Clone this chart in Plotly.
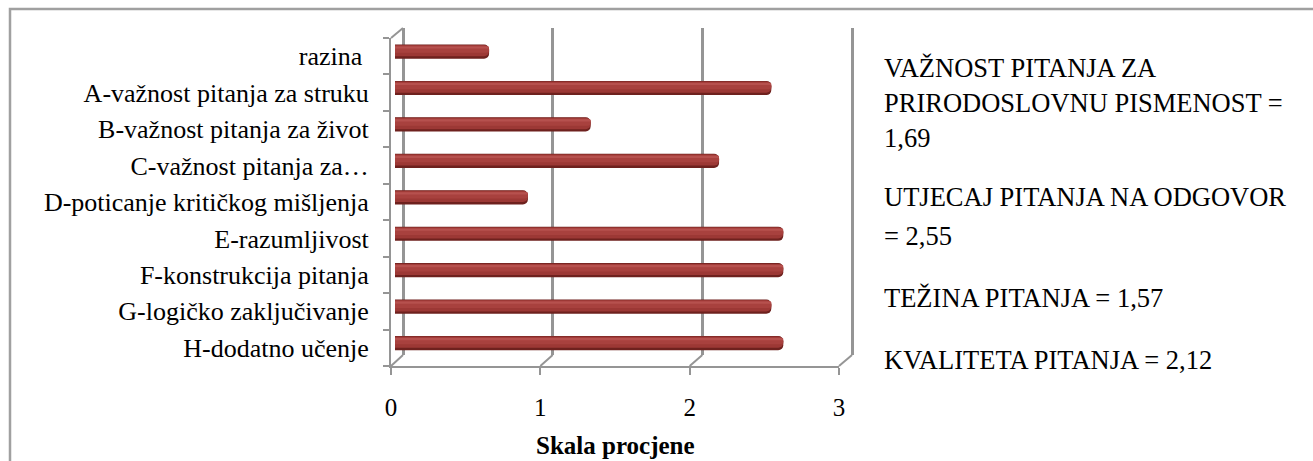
import plotly.graph_objects as go

W, H = 1313, 461

categories = [
    "razina",
    "A-važnost pitanja za struku",
    "B-važnost pitanja za život",
    "C-važnost pitanja za…",
    "D-poticanje kritičkog mišljenja",
    "E-razumljivost",
    "F-konstrukcija pitanja",
    "G-logičko zaključivanje",
    "H-dodatno učenje",
]
tick_labels = [
    "razina\u00a0",
    "A-važnost pitanja za struku",
    "B-važnost pitanja za život",
    "C-važnost pitanja za…",
    "D-poticanje kritičkog mišljenja",
    "E-razumljivost",
    "F-konstrukcija pitanja",
    "G-logičko zaključivanje",
    "H-dodatno učenje",
]
values = [0.63, 2.52, 1.31, 2.17, 0.89, 2.60, 2.60, 2.52, 2.60]
x_ticks = [0, 1, 2, 3]
x_title = "Skala procjene"
summary_lines = [
    "VAŽNOST PITANJA ZA",
    "PRIRODOSLOVNU PISMENOST =",
    "1,69",
    "UTJECAJ PITANJA NA ODGOVOR",
    "= 2,55",
    "TEŽINA PITANJA = 1,57",
    "KVALITETA PITANJA = 2,12",
]
summary_y_px = [68, 103, 138, 197, 236, 298, 360]

FONT = "Liberation Serif"
GRAY = "#959595"


def fx(px):
    return px / W


def fy(py):
    return 1 - py / H


# pixel geometry of the pseudo-3D frame
FRONT_X0, FRONT_X3 = 391, 839
BACK_X0, BACK_X3 = 403, 852
BAR_X0 = 395
UNIT = (FRONT_X3 - FRONT_X0) / 3
BACK_UNIT = (BACK_X3 - BACK_X0) / 3
FRONT_TOP, FRONT_BOT = 38, 366
BACK_TOP, BACK_BOT = 28, 355
BAR_TOP, BAR_BOT = 33.5, 361.5
PAD = 0.03  # keep the edge gridlines of the back wall inside the range


def xdomain(px0, unit, lo, hi):
    return [fx(px0 + lo * unit), fx(px0 + hi * unit)]


fig = go.Figure()

# back wall (subplot x/y): only gridlines
fig.add_trace(go.Scatter(x=[None], y=[None], xaxis="x", yaxis="y",
                         showlegend=False, hoverinfo="skip"))

# bars (subplot x2/y2): layered to suggest a cylinder
bar_layers = [
    ("#6e211e", -0.20, 0.39),
    ("#9c3835", -0.185, 0.31),
    ("#a8413e", -0.16, 0.19),
    ("#b6514e", -0.145, 0.06),
]
for color, off, wid in bar_layers:
    fig.add_trace(go.Bar(
        x=values, y=categories, orientation="h",
        xaxis="x2", yaxis="y2",
        marker=dict(color=color, line=dict(width=0), cornerradius=5),
        offset=off, width=wid, showlegend=False, hoverinfo="skip",
    ))

# front axes (subplot x3/y3)
fig.add_trace(go.Bar(
    x=values, y=categories, orientation="h", xaxis="x3", yaxis="y3",
    marker=dict(color="rgba(0,0,0,0)", line=dict(width=0)),
    showlegend=False, hoverinfo="skip",
))

layout_axes = dict(
    xaxis=dict(
        domain=xdomain(BACK_X0, BACK_UNIT, -PAD, 3 + PAD), range=[-PAD, 3 + PAD],
        anchor="y", tickvals=x_ticks, showticklabels=False, ticks="",
        showgrid=True, gridcolor=GRAY, gridwidth=2.5,
        zeroline=False, showline=False,
    ),
    yaxis=dict(
        domain=[fy(BACK_BOT), fy(BACK_TOP)], range=[0, 1], anchor="x",
        visible=False, showgrid=False, zeroline=False,
    ),
    xaxis2=dict(
        domain=xdomain(BAR_X0, UNIT, 0, 3), range=[0, 3], anchor="y2",
        visible=False, showgrid=False, zeroline=False,
    ),
    yaxis2=dict(
        domain=[fy(BAR_BOT), fy(BAR_TOP)], anchor="x2", type="category",
        categoryorder="array", categoryarray=categories,
        range=[len(categories) - 0.5, -0.5],
        visible=False, showgrid=False,
    ),
    xaxis3=dict(
        domain=xdomain(FRONT_X0, UNIT, 0, 3), range=[0, 3], anchor="y3",
        tickvals=x_ticks, ticktext=[str(v) for v in x_ticks],
        ticks="outside", ticklen=7, tickwidth=2, tickcolor=GRAY,
        showline=True, linecolor=GRAY, linewidth=2,
        showgrid=False, zeroline=False,
        tickfont=dict(family=FONT, size=25, color="black"),
        ticklabelstandoff=11,
    ),
    yaxis3=dict(
        domain=[fy(FRONT_BOT), fy(FRONT_TOP)], anchor="x3", type="category",
        categoryorder="array", categoryarray=categories,
        tickvals=categories, ticktext=tick_labels,
        range=[len(categories) - 0.5, -0.5],
        ticks="outside", tickson="boundaries", ticklen=6, tickwidth=2, tickcolor=GRAY,
        showline=True, linecolor=GRAY, linewidth=2,
        showgrid=False, zeroline=False,
        tickfont=dict(family=FONT, size=26, color="black"),
        ticklabelstandoff=15,
    ),
)

shapes = []
# outer frame (right/bottom edges fall outside the picture)
shapes.append(dict(type="rect", xref="paper", yref="paper",
                   x0=fx(10), x1=fx(W + 20), y0=fy(H + 20), y1=fy(9),
                   line=dict(color="#a0a0a0", width=2.5), layer="below"))
# 3D slants: top-left corner and floor
shapes.append(dict(type="line", xref="paper", yref="paper",
                   x0=fx(FRONT_X0), y0=fy(FRONT_TOP), x1=fx(BACK_X0), y1=fy(BACK_TOP),
                   line=dict(color=GRAY, width=2)))
for v in x_ticks:
    xf = FRONT_X0 + v * UNIT
    xb = BACK_X0 + v * BACK_UNIT
    shapes.append(dict(type="line", xref="paper", yref="paper",
                       x0=fx(xf), y0=fy(FRONT_BOT), x1=fx(xb), y1=fy(BACK_BOT),
                       line=dict(color=GRAY, width=2)))

annotations = []
for line, ypx in zip(summary_lines, summary_y_px):
    annotations.append(dict(
        text=line, xref="paper", yref="paper", x=fx(882), y=fy(ypx),
        xanchor="left", yanchor="middle", showarrow=False,
        font=dict(family=FONT, size=26.5, color="black"),
    ))
annotations.append(dict(
    text="<b>" + x_title + "</b>", xref="paper", yref="paper",
    x=fx(615), y=fy(445), xanchor="center", yanchor="middle", showarrow=False,
    font=dict(family=FONT, size=25, color="black"),
))

fig.update_layout(
    template="none",
    width=W, height=H,
    margin=dict(l=0, r=0, t=0, b=0),
    paper_bgcolor="white", plot_bgcolor="rgba(0,0,0,0)",
    barmode="overlay",
    showlegend=False,
    shapes=shapes,
    annotations=annotations,
    font=dict(family=FONT, color="black"),
    **layout_axes,
)

fig.write_html(
    "out.html",
    config={"displayModeBar": False},
    post_script="document.body.style.margin='0';document.body.style.overflow='hidden';",
)
